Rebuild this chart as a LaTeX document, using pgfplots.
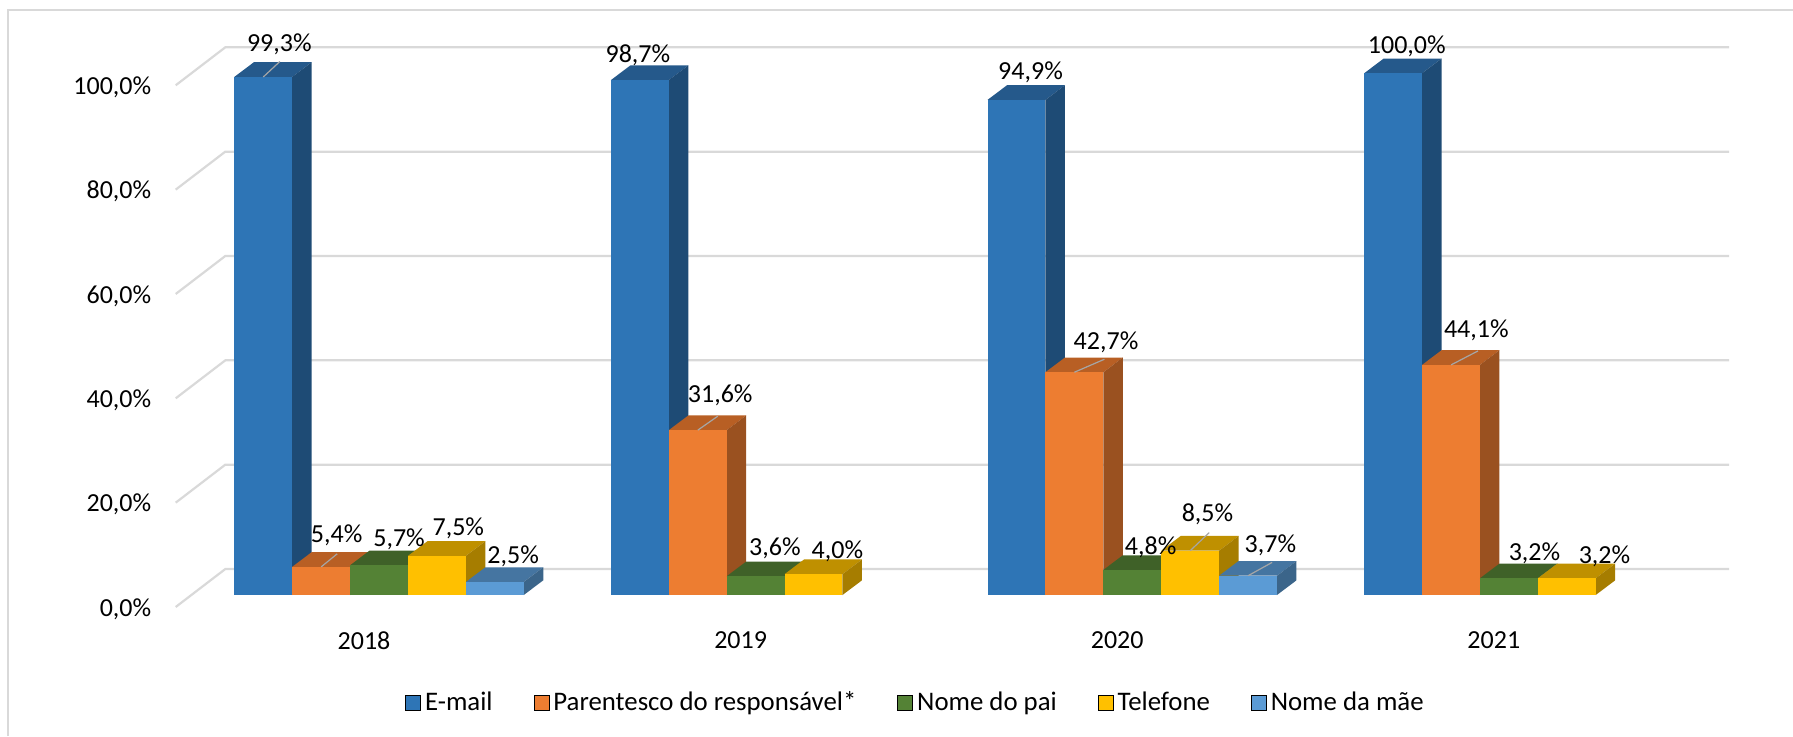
\documentclass[border=0pt]{standalone}
\usepackage{fontspec}
\setmainfont{Carlito}
\usepackage{pgfplots}
\usepackage{pgfplotstable}
\pgfplotsset{compat=1.18}
\pgfkeys{/pgf/number format/.cd,fixed,fixed zerofill,precision=1,use comma,assume math mode=true}

\definecolor{azulF}{HTML}{2E75B6}\definecolor{azulL}{HTML}{1E4B75}\definecolor{azulT}{HTML}{25598B}
\definecolor{larF}{HTML}{ED7D31}\definecolor{larL}{HTML}{9A5120}\definecolor{larT}{HTML}{B85F24}
\definecolor{verF}{HTML}{548235}\definecolor{verL}{HTML}{3F6128}\definecolor{verT}{HTML}{3F6128}
\definecolor{amaF}{HTML}{FFC000}\definecolor{amaL}{HTML}{A67D00}\definecolor{amaT}{HTML}{BF9000}
\definecolor{cenF}{HTML}{5B9BD5}\definecolor{cenL}{HTML}{3B658A}\definecolor{cenT}{HTML}{4575A1}
\definecolor{grade}{HTML}{D9D9D9}

% ano, valor, posicao do rotulo (px, a partir do topo da barra), fio guia (px)
\pgfplotstableread{
cat v lx ly gx gy
0 99.3 16.0 34.6 16.6 15.5
1 98.7 -2.0 26.6 0 0
2 94.9 14.0 29.3 0 0
3 100.0 13.7 28.6 0 0
}\tabEmail
\pgfplotstableread{
cat v lx ly gx gy
0 5.4 15.4 32.7 16 13
1 31.6 22.4 36.0 20 14
2 42.7 31.6 31.7 30 13
3 44.1 25.3 36.0 27 14
}\tabParentesco
\pgfplotstableread{
cat v lx ly gx gy
0 5.7 20.0 28.0 0 0
1 3.6 19.2 29.5 0 0
2 4.8 18.3 24.6 0 0
3 3.2 25.6 26.3 0 0
}\tabPai
\pgfplotstableread{
cat v lx ly gx gy
0 7.5 21.3 29.5 0 0
1 4.0 23.8 24.4 0 0
2 8.5 17.3 37.7 19 18
3 3.2 37.7 24.0 0 0
}\tabTelefone
\pgfplotstableread{
cat v lx ly gx gy
0 2.5 18.3 27.3 0 0
2 3.7 22.3 32.0 24 13.3
}\tabMae

\def\pxX{0.0026553}  % 1 px em unidades de x
\def\pxY{0.19168}    % 1 px em unidades de y

% #1 tabela, #2 posicao no grupo, #3 frente, #4 lado, #5 topo
\newcommand{\barras}[5]{%
  \pgfplotstablegetrowsof{#1}\pgfmathtruncatemacro\nlin{\pgfplotsretval-1}%
  \pgfplotsforeachungrouped \r in {0,...,\nlin}{%
    \pgfplotstablegetelem{\r}{cat}\of{#1}\let\c\pgfplotsretval
    \pgfplotstablegetelem{\r}{v}\of{#1}\let\v\pgfplotsretval
    \pgfmathsetmacro\xa{\c+(-129.7+57.9*#2)*\pxX}%
    \pgfmathsetmacro\xb{\xa+57.9*\pxX}%
    \pgfmathsetmacro\xc{\xb+19.5*\pxX}%
    \pgfmathsetmacro\xd{\xa+19.5*\pxX}%
    \pgfmathsetmacro\ya{12*\pxY}%
    \pgfmathsetmacro\yb{\v+\ya}%
    \pgfmathsetmacro\yc{\yb+14.7*\pxY}%
    \pgfmathsetmacro\yd{\ya+14.7*\pxY}%
    \edef\temp{%
      \noexpand\addplot[fill=#5,draw=none,forget plot] coordinates {(\xa,\yb)(\xb,\yb)(\xc,\yc)(\xd,\yc)} --cycle;
      \noexpand\addplot[fill=#4,draw=none,forget plot] coordinates {(\xb,\ya)(\xc,\yd)(\xc,\yc)(\xb,\yb)} --cycle;
      \noexpand\addplot[fill=#3,draw=none,forget plot] coordinates {(\xa,\ya)(\xb,\ya)(\xb,\yb)(\xa,\yb)} --cycle;
    }\temp
  }%
}

% #1 tabela, #2 posicao no grupo
\newcommand{\rotulos}[2]{%
  \pgfplotstablegetrowsof{#1}\pgfmathtruncatemacro\nlin{\pgfplotsretval-1}%
  \pgfplotsforeachungrouped \r in {0,...,\nlin}{%
    \pgfplotstablegetelem{\r}{cat}\of{#1}\let\c\pgfplotsretval
    \pgfplotstablegetelem{\r}{v}\of{#1}\let\v\pgfplotsretval
    \pgfplotstablegetelem{\r}{lx}\of{#1}\let\lx\pgfplotsretval
    \pgfplotstablegetelem{\r}{ly}\of{#1}\let\ly\pgfplotsretval
    \pgfplotstablegetelem{\r}{gx}\of{#1}\let\gx\pgfplotsretval
    \pgfplotstablegetelem{\r}{gy}\of{#1}\let\gy\pgfplotsretval
    \pgfmathsetmacro\xm{\c+(-129.7+57.9*#2+29)*\pxX}%
    \pgfmathsetmacro\ym{\v+12*\pxY}%
    \pgfmathsetmacro\xg{\xm+\gx*\pxX}%
    \pgfmathsetmacro\yg{\ym+\gy*\pxY}%
    \pgfmathsetmacro\xl{\xm+\lx*\pxX}%
    \pgfmathsetmacro\yl{\ym+\ly*\pxY}%
    \edef\temp{%
      \noexpand\addplot[color=gray!70,line width=0.6pt,forget plot] coordinates {(\xm,\ym)(\xg,\yg)};
      \noexpand\node[inner sep=0pt,yshift=-0.8pt] at (axis cs:\xl,\yl) {\noexpand\pgfmathprintnumber{\v}\noexpand\%};
    }\temp
  }%
}

\begin{document}
\fontsize{13}{15}\selectfont
\begin{tikzpicture}
  \path[use as bounding box] (-87.85pt,-64.5pt) rectangle (808.65pt,303.5pt);
  \draw[grade,line width=1pt] (-83.85pt,-64.5pt) -- (-83.85pt,298.5pt) -- (808.65pt,298.5pt);
  \begin{axis}[
    scale only axis,
    width=776.65pt,
    height=280pt,
    xmin=-0.5, xmax=3.6245,
    ymin=0, ymax=107.34,
    clip=false,
    axis line style={draw=none},
    major tick style={draw=none},
    xtick={0,1,2,3},
    xticklabels={2018,2019,2020,2021},
    ytick={0,20,40,60,80,100},
    yticklabel={\pgfmathprintnumber{\tick}\%},
    yticklabel style={xshift=-7.7pt,yshift=-1pt},
    xticklabel style={yshift=-7.7pt},
    legend columns=-1,
    legend style={at={(0.4769,-0.1716)},anchor=center,draw=none,fill=none,
      font=\fontsize{13.4}{15}\selectfont,
      /tikz/every even column/.append style={column sep=18.5pt}},
    legend image code/.code={\fill[#1] (-0.6pt,-3.75pt) rectangle (6.9pt,3.75pt);},
  ]
    % grade: parede de fundo e parede lateral
    \addplot[grade,line width=1.1pt,forget plot] coordinates {(-0.5,0)(-0.3683,7.28)(3.6245,7.28)};
    \addplot[grade,line width=1.1pt,forget plot] coordinates {(-0.5,20)(-0.3683,27.28)(3.6245,27.28)};
    \addplot[grade,line width=1.1pt,forget plot] coordinates {(-0.5,40)(-0.3683,47.28)(3.6245,47.28)};
    \addplot[grade,line width=1.1pt,forget plot] coordinates {(-0.5,60)(-0.3683,67.28)(3.6245,67.28)};
    \addplot[grade,line width=1.1pt,forget plot] coordinates {(-0.5,80)(-0.3683,87.28)(3.6245,87.28)};
    \addplot[grade,line width=1.1pt,forget plot] coordinates {(-0.5,100)(-0.3683,107.28)(3.6245,107.28)};

    \barras{\tabEmail}{0}{azulF}{azulL}{azulT}
    \barras{\tabParentesco}{1}{larF}{larL}{larT}
    \barras{\tabPai}{2}{verF}{verL}{verT}
    \barras{\tabTelefone}{3}{amaF}{amaL}{amaT}
    \barras{\tabMae}{4}{cenF}{cenL}{cenT}

    \rotulos{\tabEmail}{0}
    \rotulos{\tabParentesco}{1}
    \rotulos{\tabPai}{2}
    \rotulos{\tabTelefone}{3}
    \rotulos{\tabMae}{4}

    \addlegendimage{fill=azulF}\addlegendentry{E-mail}
    \addlegendimage{fill=larF}\addlegendentry{Parentesco do responsável*}
    \addlegendimage{fill=verF}\addlegendentry{Nome do pai}
    \addlegendimage{fill=amaF}\addlegendentry{Telefone}
    \addlegendimage{fill=cenF}\addlegendentry{Nome da mãe}
  \end{axis}
\end{tikzpicture}
\end{document}
